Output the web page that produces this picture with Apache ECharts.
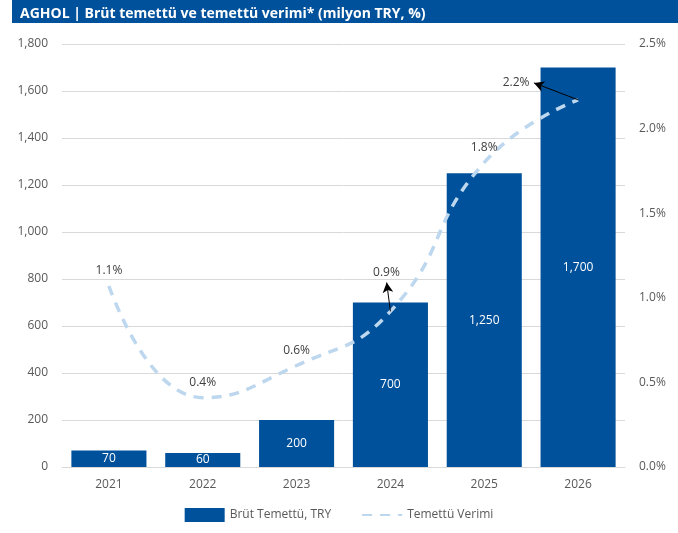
<!DOCTYPE html>
<html><head><meta charset="utf-8">
<script src="https://cdn.jsdelivr.net/npm/echarts@6/dist/echarts.min.js"></script>
<style>html,body{margin:0;padding:0;background:#fff}#c{width:678px;height:533px}</style>
</head><body><div id="c"></div>
<script>
const categories = ['2021','2022','2023','2024','2025','2026'];
const dividends = [70, 60, 200, 700, 1250, 1700];
const yieldPct = [1.07, 0.41, 0.6, 0.92, 1.8, 2.17];
const leftTicks = {min: 0, max: 1800, interval: 200};
const rightTicks = {min: 0, max: 2.5, interval: 0.5};
// annotation arrows (data space: category index, yield %)
const arrows = [
  [[3, 0.92], [2.96, 1.09]],
  [[5, 2.17], [4.53, 2.27]]
];

const FONT = '"Open Sans", "Noto Sans", sans-serif';
const chart = echarts.init(document.getElementById('c'));
chart.setOption({
  animation: false,
  textStyle: {fontFamily: FONT},
  graphic: [{type: 'rect', shape: {x: 12, y: 0, width: 666, height: 23}, style: {fill: '#00519B'}, z: -1}],
  title: {text: 'AGHOL | Brüt temettü ve temettü verimi* (milyon TRY, %)', left: 15, top: 2,
    textStyle: {color: '#fff', fontSize: 14, fontWeight: 'bold', fontFamily: FONT}},
  grid: {left: 62, right: 53, top: 44, bottom: 66},
  legend: {bottom: 6, left: 'center', itemGap: 30, textStyle: {color: '#595959', fontSize: 12},
    data: [{name: 'Brüt Temettü, TRY', icon: 'rect', itemHeight: 7},
           {name: 'Temettü Verimi', itemStyle: {color: 'rgba(0,0,0,0)', borderWidth: 0}}], itemWidth: 40},
  xAxis: [{type: 'category', data: categories,
    axisLine: {lineStyle: {color: '#d9d9d9'}}, axisTick: {show: false},
    axisLabel: {color: '#595959', fontSize: 12, margin: 12}},
    {type: 'value', min: -0.5, max: 5.5, show: false}],
  yAxis: [
    {type: 'value', min: leftTicks.min, max: leftTicks.max, interval: leftTicks.interval,
      axisLabel: {color: '#595959', fontSize: 12, margin: 14, formatter: v => v.toLocaleString('en-US')},
      splitLine: {lineStyle: {color: '#d9d9d9'}}, axisLine: {show: false}, axisTick: {show: false}},
    {type: 'value', min: rightTicks.min, max: rightTicks.max, interval: rightTicks.interval,
      axisLabel: {color: '#595959', fontSize: 12, margin: 14, formatter: v => v.toFixed(1) + '%'},
      splitLine: {show: false}, axisLine: {show: false}, axisTick: {show: false}}
  ],
  series: [
    {name: 'Brüt Temettü, TRY', type: 'bar', data: dividends, barCategoryGap: '20%',
      itemStyle: {color: '#00519B'},
      label: {show: true, position: 'inside', color: '#fff', fontSize: 12,
        formatter: p => p.value.toLocaleString('en-US')}},
    {name: 'Temettü Verimi', type: 'line', yAxisIndex: 1, data: yieldPct, smooth: 0.5,
      symbol: 'circle', symbolSize: 2, showSymbol: true,
      lineStyle: {color: '#BDD7EE', width: 3.5, type: [10, 8]},
      itemStyle: {color: 'rgba(0,0,0,0)', borderWidth: 0},
      label: {show: true, position: 'top', distance: 8, color: '#404040', fontSize: 12,
        formatter: p => p.value.toFixed(1) + '%'},
      labelLayout: function (params) {
        const i = params.dataIndex;
        if (i === 3) return {dy: -24, dx: -4};
        if (i === 5) return {dx: -62, dy: -2};
        return {};
      }},
    {name: 'arrows', type: 'line', xAxisIndex: 1, yAxisIndex: 1, data: [], silent: true,
      markLine: {silent: true, symbol: ['none', 'arrow'], symbolSize: [8, 10], label: {show: false},
        lineStyle: {color: '#000', width: 1, type: 'solid'},
        data: arrows.map(a => [{coord: a[0]}, {coord: a[1]}])}}
  ]
});
</script></body></html>
